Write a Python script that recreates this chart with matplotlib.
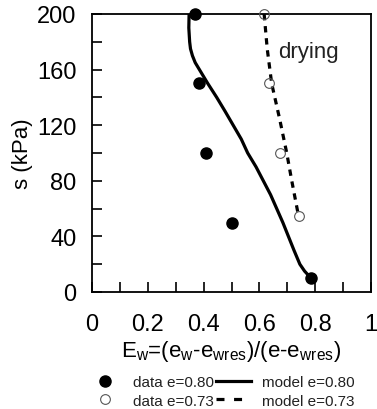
import matplotlib
matplotlib.use("Agg")
import matplotlib.pyplot as plt
from matplotlib.ticker import MultipleLocator, FuncFormatter
from matplotlib.lines import Line2D

plt.rcParams['font.family'] = ['Liberation Sans', 'DejaVu Sans']
plt.rcParams['mathtext.fontset'] = 'custom'
plt.rcParams['mathtext.rm'] = 'Liberation Sans'

# data e=0.80 (filled)
data80_E = [0.369, 0.384, 0.410, 0.503, 0.785]
data80_s = [200, 150, 100, 50, 10]
# data e=0.73 (open)
data73_E = [0.617, 0.635, 0.674, 0.743]
data73_s = [200, 150, 100, 55]
# model e=0.80 (solid)
model80_s = [200, 190, 180, 175, 170, 165, 160, 150, 140, 130, 120, 110, 100,
             90, 80, 70, 60, 50, 40, 30, 20, 15, 10]
model80_E = [0.348, 0.347, 0.350, 0.353, 0.360, 0.370, 0.385, 0.415, 0.447,
             0.477, 0.506, 0.535, 0.558, 0.588, 0.614, 0.640, 0.662, 0.684,
             0.704, 0.724, 0.745, 0.762, 0.785]
# model e=0.73 (dashed)
model73_s = [200, 175, 150, 125, 100, 80, 57]
model73_E = [0.617, 0.628, 0.644, 0.672, 0.698, 0.716, 0.738]

fig = plt.figure(figsize=(3.77, 4.10), dpi=100)
ax = fig.add_axes([92/377, 1-293/410, 279/377, 278/410])

ax.plot(model80_E, model80_s, '-', color='black', lw=2.3, zorder=2)
ax.plot(model73_E, model73_s, color='black', lw=2.3, dashes=(2.0, 1.8), zorder=2)
ax.plot(data80_E, data80_s, 'o', color='black', ms=8, zorder=3, clip_on=False)
ax.plot(data73_E, data73_s, 'o', mfc='none', mec='#555555', mew=0.8, ms=7,
        zorder=3, clip_on=False)

ax.text(0.668, 173, 'drying', fontsize=16, va='center', ha='left',
        color='#222222')

ax.set_xlim(0, 1)
ax.set_ylim(0, 200)
ax.xaxis.set_major_locator(MultipleLocator(0.2))
ax.xaxis.set_minor_locator(MultipleLocator(0.1))
ax.yaxis.set_major_locator(MultipleLocator(40))
ax.yaxis.set_minor_locator(MultipleLocator(20))
ax.xaxis.set_major_formatter(FuncFormatter(lambda v, p: '%g' % round(v, 2)))
ax.tick_params(which='both', direction='in', length=7, width=1.2,
               top=False, right=False)
ax.tick_params(axis='x', which='major', labelsize=17, pad=15)
ax.tick_params(axis='y', which='major', labelsize=17, pad=11)
for sp in ax.spines.values():
    sp.set_linewidth(1.3)

ax.set_ylabel('s (kPa)', fontsize=16, labelpad=3)
ax.set_xlabel(r'E$\mathregular{_w}$=(e$\mathregular{_w}$-e$\mathregular{_{wres}}$)/(e-e$\mathregular{_{wres}}$)',
              fontsize=16, labelpad=2)

handles = [
    Line2D([], [], ls='none', marker='o', color='black', ms=8),
    Line2D([], [], ls='none', marker='o', mfc='none', mec='#555555', mew=0.8, ms=7),
    Line2D([], [], color='black', lw=2.3),
    Line2D([], [], color='black', lw=2.3, dashes=(2.5, 3.0)),
]
labels = ['data e=0.80', 'data e=0.73', 'model e=0.80', 'model e=0.73']
fig.legend(handles, labels, ncol=2, loc='upper left',
           bbox_to_anchor=(87/377, 1-376/410), frameon=False, fontsize=11,
           borderpad=0, borderaxespad=0, handlelength=2.3, handletextpad=0.7,
           columnspacing=0.15, labelspacing=0.3, labelcolor='#222222')

fig.savefig('out.png', dpi=100)
